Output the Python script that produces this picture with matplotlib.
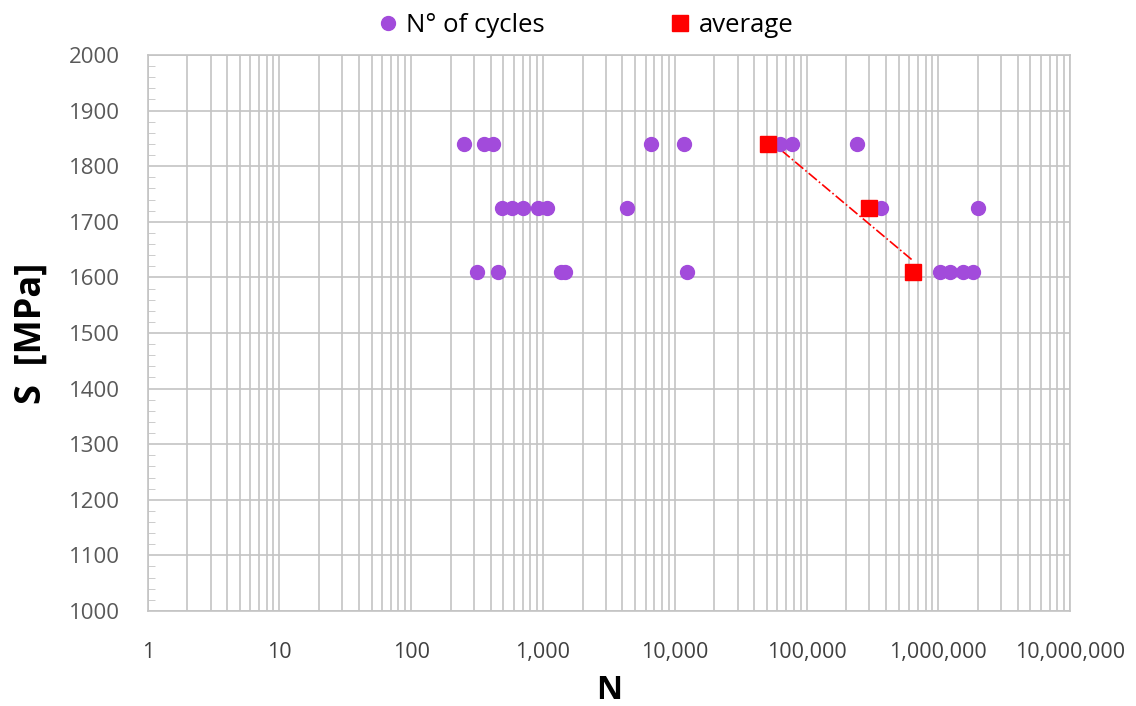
import numpy as np
import matplotlib.pyplot as plt
from matplotlib.ticker import FuncFormatter, LogLocator, MultipleLocator

# stress levels [MPa] and cycles to failure
s_high = 1840
s_mid = 1725
s_low = 1610

n_high = [251, 355, 417, 6600, 11700, 63000, 77600, 240000]
n_mid = [490, 580, 705, 916, 1070, 4350, 370000, 2000000]
n_low = [316, 455, 1370, 1470, 12400, 1030000, 1230000, 1550000, 1830000]

avg_n = [51000, 297000, 645000]
avg_s = [s_high, s_mid, s_low]

purple = "#A24BDB"
grid_col = "#C4C4C4"

plt.rcParams["font.family"] = ["Open Sans", "DejaVu Sans"]

fig = plt.figure(figsize=(11.36, 7.06), dpi=100)
ax = fig.add_axes([0.130, 0.1346, 0.812, 0.7875])

cyc_n = n_high + n_mid + n_low
cyc_s = [s_high] * len(n_high) + [s_mid] * len(n_mid) + [s_low] * len(n_low)
ax.plot(cyc_n, cyc_s, "o", color=purple, markersize=10, label="N° of cycles", zorder=3)

# logarithmic trendline through the averages
b, a = np.polyfit(np.log10(avg_n), avg_s, 1)
trend_x = np.array([min(avg_n), max(avg_n)])
ax.plot(trend_x, a + b * np.log10(trend_x), color="red", linestyle="-.", linewidth=1.2, zorder=2)
ax.plot(avg_n, avg_s, "s", color="red", markersize=11.5, linestyle="none", label="average", zorder=4)

ax.set_xscale("log")
ax.set_xlim(1, 1e7)
ax.set_ylim(1000, 2000)

ax.xaxis.set_major_locator(LogLocator(base=10, numticks=10))
ax.xaxis.set_minor_locator(LogLocator(base=10, subs=range(2, 10), numticks=100))
ax.xaxis.set_major_formatter(FuncFormatter(lambda v, p: f"{int(round(v)):,}"))
ax.yaxis.set_major_locator(MultipleLocator(100))
ax.yaxis.set_minor_locator(MultipleLocator(20))

ax.grid(True, which="both", axis="x", color=grid_col, linewidth=1.2)
ax.grid(True, which="major", axis="y", color=grid_col, linewidth=1.2)
ax.set_axisbelow(True)

ax.tick_params(axis="x", which="both", length=0, pad=22, labelsize=15.5, labelcolor="#404040")
ax.tick_params(axis="y", which="major", length=0, pad=20, labelsize=16, labelcolor="#595959")
ax.tick_params(axis="y", which="minor", direction="in", length=5, color=grid_col)

for side in ["left", "bottom", "top", "right"]:
    ax.spines[side].set_color(grid_col)
    ax.spines[side].set_linewidth(1.2)

ax.set_xlabel("N", fontsize=23, fontweight="bold", labelpad=8)
ax.set_ylabel("S  [MPa]", fontsize=26, fontweight="bold", labelpad=14)

ax.legend(loc="lower center", bbox_to_anchor=(0.473, 1.0), ncol=2, frameon=False,
          fontsize=18.5, handletextpad=0.2, columnspacing=4.8, borderaxespad=0.25,
          handlelength=1.0)

fig.savefig("out.png", dpi=100)
